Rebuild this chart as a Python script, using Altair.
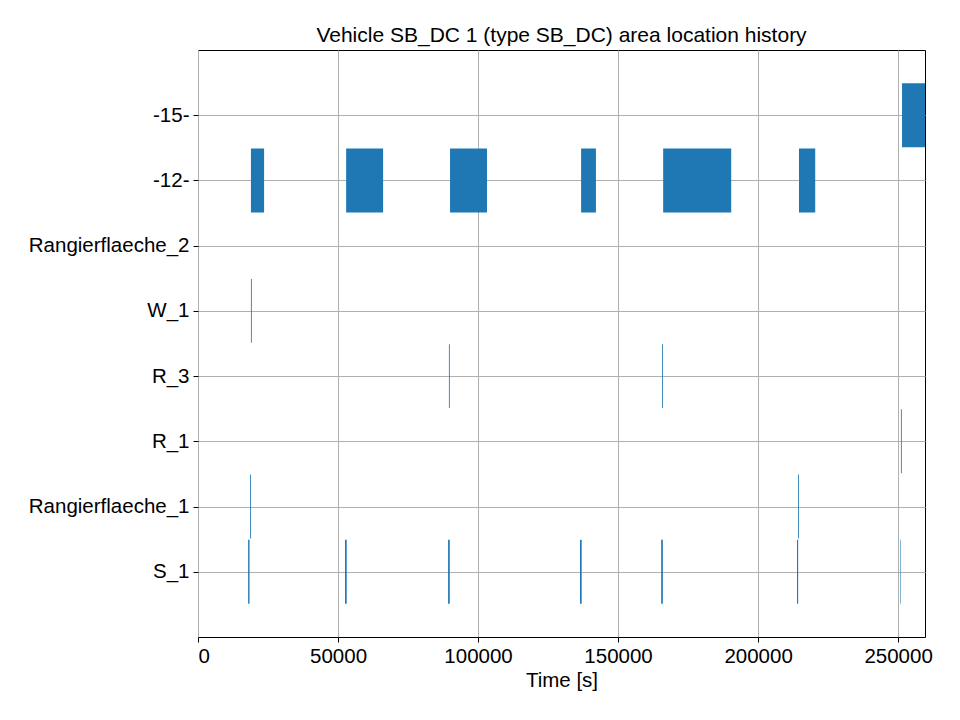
import altair as alt
import pandas as pd

cats = ["S_1", "Rangierflaeche_1", "R_1", "R_3", "W_1", "Rangierflaeche_2", "-12-", "-15-"]
areas = ["-12-"]*6 + ["-15-"] + ["S_1"]*7 + ["Rangierflaeche_1"]*2 + ["R_1"] + ["R_3"]*2 + ["W_1"]
starts = [18900, 52900, 90000, 136800, 166100, 214600, 251400,
          17900, 52500, 89300, 136400, 165400, 213900, 250700,
          18600, 214300, 251000, 89600, 165700, 18900]
ends = [23600, 66100, 103200, 142100, 190400, 220400, 259600,
        18400, 53100, 89900, 137000, 166000, 214300, 250900,
        18900, 214600, 251300, 89900, 166000, 19200]

df = pd.DataFrame({"area": areas, "start": starts, "end": ends})
df["idx"] = df["area"].map({c: i for i, c in enumerate(cats)})
df["y0"] = df["idx"] - 0.49
df["y1"] = df["idx"] + 0.49

label_expr = "[" + ",".join(f"'{c}'" for c in cats) + "][datum.value]"

chart = alt.Chart(df).mark_rect(color="#1f77b4").encode(
    x=alt.X("start:Q", scale=alt.Scale(domain=[0, 259600], nice=False, zero=False),
            axis=alt.Axis(values=[0, 50000, 100000, 150000, 200000, 250000], format="d",
                          title="Time [s]", grid=True)),
    x2="end:Q",
    y=alt.Y("y0:Q", scale=alt.Scale(domain=[-1, 8], nice=False),
            axis=alt.Axis(values=list(range(8)), labelExpr=label_expr, title=None, grid=True)),
    y2="y1:Q",
).properties(
    width=727, height=587,
    title=alt.TitleParams("Vehicle SB_DC 1 (type SB_DC) area location history",
                          fontSize=21, fontWeight="normal", font="Liberation Sans", color="black"),
    padding={"left": 20, "top": 17, "right": 10, "bottom": 5},
).configure_axis(
    labelFont="Liberation Sans", titleFont="Liberation Sans", labelFontSize=20.5, titleFontSize=20.5,
    titleFontWeight="normal", labelColor="black", titleColor="black",
    gridColor="#b0b0b0", gridWidth=1, gridOpacity=1, domain=False, tickColor="black",
    tickSize=5, labelPadding=4,
).configure_view(stroke="black", strokeWidth=1)

chart.save("out.html", embed_options={"renderer": "svg", "actions": False})
